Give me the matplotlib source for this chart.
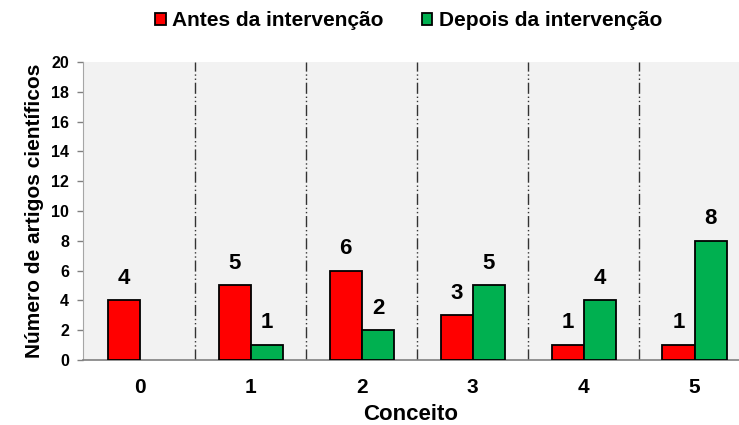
import numpy as np
import matplotlib.pyplot as plt
from matplotlib.patches import Patch

plt.rcParams['font.family'] = ['Liberation Sans', 'DejaVu Sans']
plt.rcParams['font.weight'] = 'bold'

# Data
conceitos = ["0", "1", "2", "3", "4", "5"]
antes = [4, 5, 6, 3, 1, 1]
depois = [0, 1, 2, 5, 4, 8]
labels = ["Antes da intervenção", "Depois da intervenção"]
cores = ["#FF0000", "#00B050"]

fig = plt.figure(figsize=(7.39, 4.25), dpi=100)
ax = fig.add_axes([0.1123, 0.153, 0.8877, 0.701])
ax.set_facecolor("#F2F2F2")

x = np.arange(len(conceitos))
w = 0.29

# no outline on empty bars
def edges(vals):
    return ["black" if v > 0 else "none" for v in vals]

b1 = ax.bar(x - w / 2, antes, w, color=cores[0], edgecolor=edges(antes), linewidth=1.3, zorder=3)
b2 = ax.bar(x + w / 2, depois, w, color=cores[1], edgecolor=edges(depois), linewidth=1.3, zorder=3)

# value labels (skip zeros)
for bars, vals in ((b1, antes), (b2, depois)):
    for rect, v in zip(bars, vals):
        if v == 0:
            continue
        ax.annotate(str(v), (rect.get_x() + rect.get_width() / 2, v),
                    xytext=(0, 12), textcoords="offset points",
                    ha="center", va="baseline", fontsize=16, fontweight="bold")

# dividers between groups
for d in x[:-1] + 0.5:
    ax.axvline(d, color="#333333", linewidth=1, linestyle=(0, (8, 2, 1, 2, 1, 2)), zorder=2)

ax.set_xlim(-0.514, 5.40)
ax.set_ylim(0, 20)
ax.set_yticks(range(0, 21, 2))
ax.set_xticks(x)
ax.set_xticklabels(conceitos, fontsize=15, fontweight="bold")
ax.tick_params(axis="y", labelsize=11.5, color="#808080", length=4, width=1, pad=6)
ax.tick_params(axis="x", length=0, pad=13)

for s in ("top", "right"):
    ax.spines[s].set_visible(False)
ax.spines["left"].set_color("#A6A6A6")
ax.spines["bottom"].set_color("#808080")
ax.spines["bottom"].set_linewidth(1.2)

ax.set_xlabel("Conceito", fontsize=16, fontweight="bold", labelpad=5)
ax.set_ylabel("Número de artigos científicos", fontsize=15, fontweight="bold", labelpad=5)

handles = [Patch(facecolor=c, edgecolor="black", linewidth=1.3) for c in cores]
fig.legend(handles, labels, loc="center", bbox_to_anchor=(0.553, 0.951), ncol=2,
           frameon=False, handlelength=0.5, handleheight=0.5,
           handletextpad=0.3, columnspacing=1.85, prop={"weight": "bold", "size": 15})

fig.savefig("out.png", dpi=100)
